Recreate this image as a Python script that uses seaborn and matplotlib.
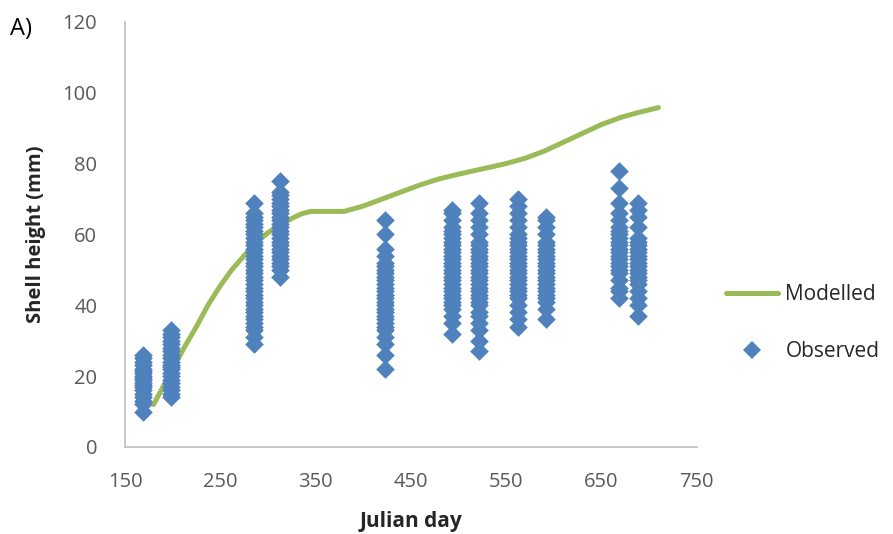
import matplotlib
matplotlib.use("Agg")
import matplotlib.pyplot as plt
import seaborn as sns
import pandas as pd
from matplotlib.lines import Line2D

# Modelled shell growth curve (Julian day, height in mm)
model_days = [180, 190, 200, 212, 225, 237, 250, 262, 275, 287, 300, 312,
              325, 335, 345, 380, 400, 420, 440, 460, 480, 500, 525, 550,
              570, 590, 610, 630, 650, 670, 690, 710]
model_height = [12, 17, 22, 28, 34, 40, 45.5, 50, 54, 57.5, 60.5, 62.5,
                64.5, 65.8, 66.5, 66.5, 68, 70, 72, 74, 75.7, 77, 78.5, 80,
                81.5, 83.5, 86, 88.5, 91, 93, 94.5, 95.8]

# Observed shell heights per sampling day
obs_169 = [10, 12, 13, 14, 15, 16, 17, 17.5, 18, 19, 19.5, 20, 21, 21.5, 22,
           23, 24, 25, 26]
obs_198 = [14, 15, 16, 17, 18, 19, 20, 21, 22, 22.5, 23, 24, 25, 26, 27, 28,
           29, 30, 31, 32, 33]
obs_285 = [29, 31, 33, 34, 35, 36, 37, 38, 39, 40, 41, 42, 43, 44, 45, 46, 47,
           48, 49, 50, 51, 52, 53, 54, 55, 56, 57, 58, 59, 60, 61, 62, 63, 64,
           65, 66, 69]
obs_313 = [48, 50, 51, 52, 53, 54, 55, 56, 57, 58, 59, 60, 61, 62, 63, 64, 65,
           66, 67, 68, 69, 70, 71, 72, 75]
obs_423 = [22, 26, 29, 31, 33, 34, 35, 36, 37, 38, 39, 40, 41, 42, 43, 44, 45,
           46, 47, 48, 49, 50, 51, 52, 54, 56, 60, 64]
obs_493 = [32, 35, 37, 39, 40, 41, 42, 43, 44, 45, 46, 47, 48, 49, 50, 51, 52,
           53, 54, 55, 56, 57, 58, 59, 60, 61, 62, 64, 66, 67]
obs_522 = [27, 30, 33, 35, 37, 38, 40, 41, 42, 43, 44, 45, 46, 47, 48, 49, 50,
           51, 52, 53, 54, 55, 56, 57, 58, 60, 62, 64, 66, 69]
obs_563 = [34, 36, 38, 40, 42, 43, 44, 45, 46, 47, 48, 49, 50, 51, 52, 53, 54,
           55, 56, 57, 58, 59, 60, 62, 64, 66, 68, 70]
obs_592 = [36, 39, 41, 42, 43, 44, 45, 46, 47, 48, 49, 50, 51, 52, 53, 54, 55,
           56, 57, 58, 60, 62, 64, 65]
obs_669 = [42, 44, 45, 47, 49, 50, 51, 52, 53, 54, 55, 56, 57, 58, 59, 60, 61,
           62, 64, 66, 69, 73, 78]
obs_689 = [37, 40, 42, 44, 46, 47, 48, 49, 50, 51, 52, 53, 54, 55, 56, 57, 58,
           59, 62, 65, 67, 69]

observed = {169: obs_169, 198: obs_198, 285: obs_285, 313: obs_313,
            423: obs_423, 493: obs_493, 522: obs_522, 563: obs_563,
            592: obs_592, 669: obs_669, 689: obs_689}

x_ticks = [150, 250, 350, 450, 550, 650, 750]
y_ticks = [0, 20, 40, 60, 80, 100, 120]

GREEN = "#9BBB59"
BLUE = "#4F81BD"
TEXT = "#595959"

model_df = pd.DataFrame({"day": model_days, "height": model_height})
obs_df = pd.DataFrame(
    [(d, h) for d, vals in observed.items() for h in vals],
    columns=["day", "height"],
)

sns.set_theme(style="white")
plt.rcParams["font.family"] = ["Open Sans", "DejaVu Sans"]

fig = plt.figure(figsize=(8.93, 5.34), dpi=100)
ax = fig.add_axes([0.140, 0.163, 0.640, 0.796])

sns.lineplot(data=model_df, x="day", y="height", ax=ax, color=GREEN,
             linewidth=3.6, zorder=2)
sns.scatterplot(data=obs_df, x="day", y="height", ax=ax, marker="D",
                color=BLUE, s=90, linewidth=0, zorder=3)

ax.set_xlim(150, 750)
ax.set_ylim(0, 120)
ax.set_xticks(x_ticks)
ax.set_yticks(y_ticks)
ax.tick_params(axis="both", length=0, labelsize=14.5, labelcolor=TEXT)
ax.tick_params(axis="y", pad=20)
ax.tick_params(axis="x", pad=18)

for side in ("top", "right"):
    ax.spines[side].set_visible(False)
for side in ("left", "bottom"):
    ax.spines[side].set_color("#BFBFBF")
    ax.spines[side].set_linewidth(1.2)

ax.set_xlabel("Julian day", fontsize=15, fontweight="bold", labelpad=14)
ax.set_ylabel("Shell height (mm)", fontsize=14.5, fontweight="bold",
              labelpad=12)

fig.text(0.011, 0.935, "A)", fontsize=17, color="black")

handles = [
    Line2D([], [], color=GREEN, linewidth=3.6),
    Line2D([], [], color=BLUE, marker="D", linestyle="none", markersize=9.5,
           markeredgewidth=0),
]
fig.legend(handles, ["Modelled", "Observed"], loc="center left",
           bbox_to_anchor=(0.792, 0.395), frameon=False, fontsize=15,
           handlelength=2.5, handletextpad=0.35, labelspacing=1.75)

fig.savefig("out.png", dpi=100)
